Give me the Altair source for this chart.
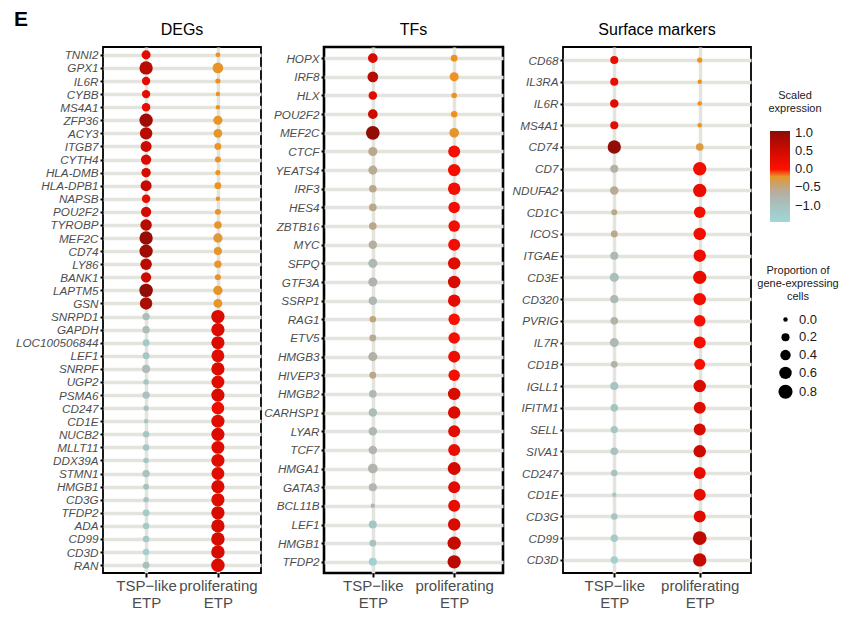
import altair as alt
import pandas as pd

FONT = "Liberation Sans"

groups = ["TSP−like ETP", "proliferating ETP"]

# ---------------- DEGs ----------------
deg_genes = ["TNNI2", "GPX1", "IL6R", "CYBB", "MS4A1", "ZFP36", "ACY3", "ITGB7", "CYTH4",
             "HLA-DMB", "HLA-DPB1", "NAPSB", "POU2F2", "TYROBP", "MEF2C", "CD74", "LY86",
             "BANK1", "LAPTM5", "GSN", "SNRPD1", "GAPDH", "LOC100506844", "LEF1", "SNRPF",
             "UGP2", "PSMA6", "CD247", "CD1E", "NUCB2", "MLLT11", "DDX39A", "STMN1", "HMGB1",
             "CD3G", "TFDP2", "ADA", "CD99", "CD3D", "RAN"]
deg_tsp_prop = [0.28, 0.70, 0.22, 0.22, 0.23, 0.70, 0.60, 0.45, 0.38, 0.30, 0.45, 0.23, 0.38, 0.50,
                0.70, 0.70, 0.50, 0.38, 0.72, 0.60, 0.15, 0.15, 0.12, 0.12, 0.20, 0.05, 0.15, 0.03,
                0.00, 0.10, 0.10, 0.05, 0.15, 0.07, 0.05, 0.12, 0.10, 0.10, 0.10, 0.12]
deg_tsp_expr = [0.30, 0.70, 0.30, 0.30, 0.25, 0.90, 0.70, 0.55, 0.45, 0.45, 0.60, 0.25, 0.50, 0.70,
                 0.95, 0.90, 0.70, 0.55, 1.00, 0.80, -0.95, -0.90, -1.15, -1.10, -0.90, -1.10, -1.00,
                 -1.00, -1.10, -1.10, -1.10, -1.10, -1.00, -1.00, -1.10, -1.20, -1.15, -1.15, -1.30, -0.95]
deg_pro_prop = [0.02, 0.42, 0.03, 0.00, 0.00, 0.28, 0.25, 0.12, 0.07, 0.03, 0.12, 0.00, 0.07, 0.17,
                0.30, 0.20, 0.15, 0.07, 0.30, 0.25, 0.70, 0.70, 0.68, 0.65, 0.68, 0.65, 0.68, 0.62,
                0.68, 0.68, 0.65, 0.68, 0.65, 0.68, 0.68, 0.70, 0.70, 0.72, 0.72, 0.72]
deg_pro_expr = [-0.10, -0.20, -0.10, -0.10, -0.10, -0.20, -0.25, -0.15, -0.12, -0.10, -0.15, -0.10,
                -0.12, -0.20, -0.28, -0.25, -0.18, -0.12, -0.22, -0.20, 0.40, 0.40, 0.40, 0.35, 0.40,
                0.35, 0.40, 0.20, 0.35, 0.40, 0.35, 0.35, 0.35, 0.40, 0.35, 0.45, 0.45, 0.45, 0.45, 0.40]

# ---------------- TFs ----------------
tf_genes = ["HOPX", "IRF8", "HLX", "POU2F2", "MEF2C", "CTCF", "YEATS4", "IRF3", "HES4", "ZBTB16",
            "MYC", "SFPQ", "GTF3A", "SSRP1", "RAG1", "ETV5", "HMGB3", "HIVEP3", "HMGB2", "CARHSP1",
            "LYAR", "TCF7", "HMGA1", "GATA3", "BCL11B", "LEF1", "HMGB1", "TFDP2"]
tf_tsp_prop = [0.33, 0.42, 0.23, 0.33, 0.75, 0.28, 0.28, 0.17, 0.17, 0.17, 0.23, 0.28, 0.28, 0.23,
               0.10, 0.12, 0.28, 0.12, 0.17, 0.23, 0.23, 0.23, 0.33, 0.20, 0.00, 0.20, 0.12, 0.20]
tf_tsp_expr = [0.45, 0.70, 0.35, 0.55, 1.00, -0.50, -0.60, -0.50, -0.50, -0.50, -0.65, -0.85, -0.75,
               -0.85, -0.45, -0.55, -0.70, -0.50, -0.85, -0.90, -0.85, -0.80, -0.75, -0.80, -0.85,
               -1.10, -1.00, -1.35]
tf_pro_prop = [0.12, 0.28, 0.05, 0.10, 0.33, 0.55, 0.60, 0.60, 0.50, 0.50, 0.55, 0.60, 0.60, 0.60,
               0.50, 0.50, 0.55, 0.50, 0.60, 0.60, 0.55, 0.55, 0.65, 0.55, 0.55, 0.60, 0.70, 0.70]
tf_pro_expr = [-0.10, -0.15, -0.10, -0.10, -0.25, 0.10, 0.15, 0.15, 0.15, 0.15, 0.15, 0.35, 0.45, 0.30,
               0.05, 0.10, 0.20, 0.10, 0.45, 0.40, 0.30, 0.25, 0.50, 0.30, 0.25, 0.45, 0.60, 0.70]

# ---------------- Surface markers ----------------
sm_genes = ["CD68", "IL3RA", "IL6R", "MS4A1", "CD74", "CD7", "NDUFA2", "CD1C", "ICOS", "ITGAE",
            "CD3E", "CD320", "PVRIG", "IL7R", "CD1B", "IGLL1", "IFITM1", "SELL", "SIVA1", "CD247",
            "CD1E", "CD3G", "CD99", "CD3D"]
sm_tsp_prop = [0.20, 0.20, 0.23, 0.20, 0.70, 0.20, 0.23, 0.07, 0.12, 0.20, 0.28, 0.20, 0.17, 0.28,
               0.12, 0.20, 0.17, 0.15, 0.17, 0.10, 0.00, 0.10, 0.15, 0.15]
sm_tsp_expr = [0.25, 0.25, 0.35, 0.30, 1.00, -0.70, -0.55, -0.50, -0.50, -0.85, -0.95, -0.85, -0.70,
               -0.85, -0.70, -1.05, -1.05, -1.10, -1.00, -1.00, -1.10, -1.05, -1.20, -1.30]
sm_pro_prop = [0.03, 0.00, 0.01, 0.00, 0.17, 0.70, 0.70, 0.50, 0.60, 0.60, 0.70, 0.60, 0.50, 0.55,
               0.45, 0.60, 0.55, 0.55, 0.60, 0.55, 0.55, 0.55, 0.75, 0.70]
sm_pro_expr = [-0.10, -0.10, -0.12, -0.10, -0.30, 0.15, 0.25, 0.15, 0.15, 0.20, 0.25, 0.15, 0.10,
               0.12, 0.08, 0.40, 0.35, 0.45, 0.55, 0.25, 0.25, 0.35, 0.65, 0.60]

# colour scale stops for scaled expression
expr_stops = [-1.45, -1.0, -0.75, -0.5, -0.25, -0.01, 0.0, 0.5, 1.05]
expr_colors = ["#9fd7d7", "#a7c2bf", "#b3b3ad", "#bba88b", "#e4962e", "#f48f15",
               "#ff1000", "#d20a00", "#8a0d06"]

grid_col = "#e4e4de"

color_scale = alt.Scale(domain=expr_stops, range=expr_colors, interpolate="rgb")
size_scale = alt.Scale(domain=[0, 0.8], range=[20, 200])

color_legend = alt.Legend(
    title=["Scaled", "expression"], values=[1.0, 0.5, 0.0, -0.5, -1.0], format=".1f",
    orient="none", legendX=665, legendY=43, direction="vertical",
    gradientLength=91, gradientThickness=20, gradientStrokeWidth=0,
    titleFontSize=11, titleFontWeight="normal", titleColor="#1a1a1a",
    titleAnchor="middle", titleAlign="center", titleLineHeight=13, titlePadding=17,
    labelFontSize=13, labelColor="#1a1a1a", labelOffset=5, titleFont=FONT, labelFont=FONT,
)
size_legend = alt.Legend(
    title=["Proportion of", "gene-expressing", "cells"], values=[0.0, 0.2, 0.4, 0.6, 0.8],
    format=".1f", orient="none", legendX=654, legendY=218,
    symbolType="circle", symbolFillColor="black", symbolStrokeWidth=0, symbolOpacity=1,
    titleFontSize=11, titleFontWeight="normal", titleColor="#1a1a1a",
    titleAnchor="middle", titleAlign="center", titleLineHeight=13, titlePadding=11,
    labelFontSize=13, labelColor="#1a1a1a", labelOffset=6, rowPadding=3.8,
    titleFont=FONT, labelFont=FONT,
)


def panel(title, genes, tp, te, pp, pe, width, sw, extent):
    df = pd.DataFrame({
        "gene": genes + genes,
        "group": [groups[0]] * len(genes) + [groups[1]] * len(genes),
        "prop": tp + pp,
        "expr": te + pe,
    })
    pts = alt.Chart(df).mark_circle(opacity=1).encode(
        x=alt.X("group:N", sort=groups,
                scale=alt.Scale(type="point", padding=0.6, domain=groups),
                axis=alt.Axis(title=None, labelAngle=0, labelExpr="split(datum.value, ' ')",
                              labelFontSize=15, labelColor="#4d4d4d", labelFont=FONT,
                              labelLineHeight=17, tickColor="black", tickWidth=2, tickSize=4,
                              labelPadding=1, domain=False, grid=True, gridColor=grid_col,
                              gridWidth=3.5)),
        y=alt.Y("gene:N", sort=genes,
                scale=alt.Scale(type="point", padding=0.6, domain=genes),
                axis=alt.Axis(title=None, labelFontStyle="italic", labelFontSize=11.7,
                              labelColor="#4d4d4d", labelFont=FONT, tickColor="black",
                              tickWidth=2, tickSize=3, labelPadding=2, domain=False,
                              grid=True, gridColor=grid_col, gridWidth=3.5,
                              minExtent=extent, maxExtent=extent)),
        size=alt.Size("prop:Q", scale=size_scale, legend=size_legend),
        color=alt.Color("expr:Q", scale=color_scale, legend=color_legend),
    )
    return pts.properties(
        width=width, height=526,
        title=alt.TitleParams(title, fontSize=16, font=FONT, fontWeight="normal",
                              color="black", anchor="middle", offset=9),
        view=alt.ViewBackground(stroke="black", strokeWidth=sw, fill="white"),
    )


p1 = panel("DEGs", deg_genes, deg_tsp_prop, deg_tsp_expr, deg_pro_prop, deg_pro_expr,
           158, 1.8, 88)
p2 = panel("TFs", tf_genes, tf_tsp_prop, tf_tsp_expr, tf_pro_prop, tf_pro_expr, 179, 2.6, 60)
p3 = panel("Surface markers", sm_genes, sm_tsp_prop, sm_tsp_expr, sm_pro_prop, sm_pro_expr,
           188, 1.8, 57)

chart = alt.hconcat(p1, p2, p3, spacing=0).properties(
    title=alt.TitleParams("E", fontSize=21, fontWeight="bold", font=FONT, color="black",
                          anchor="start", offset=-9),
    padding={"left": 6, "top": 0, "right": 0, "bottom": 0},
).configure(font=FONT, background="white")

chart.save("out.html", embed_options={"renderer": "svg", "actions": False})
